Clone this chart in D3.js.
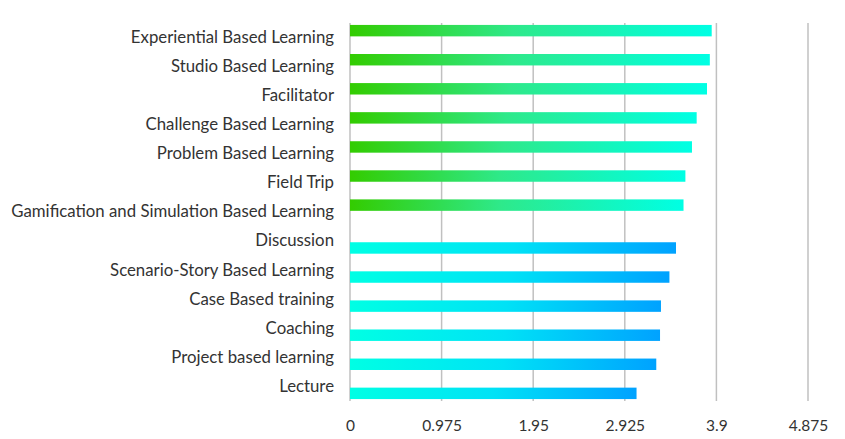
<!DOCTYPE html>
<html>
<head>
<meta charset="utf-8">
<script src="https://cdn.jsdelivr.net/npm/d3@7"></script>
<style>
  body { margin: 0; background: #fff; }
  svg { display: block; font-family: Lato, "Open Sans", sans-serif; }
</style>
</head>
<body>
<svg width="845" height="439"></svg>
<script>
// categories top to bottom
const categories = [
    "Experiential Based Learning",
    "Studio Based Learning",
    "Facilitator",
    "Challenge Based Learning",
    "Problem Based Learning",
    "Field Trip",
    "Gamification and Simulation Based Learning",
    "Discussion",
    "Scenario-Story Based Learning",
    "Case Based training",
    "Coaching",
    "Project based learning",
    "Lecture"
];
// two series, each category only has a value in one of them
const seriesNames = ["high", "other"];
const highValues  = [3.85, 3.83, 3.80, 3.69, 3.64, 3.57, 3.55, null, null, null, null, null, null];
const otherValues = [null, null, null, null, null, null, null, 3.47, 3.40, 3.31, 3.30, 3.26, 3.05];
const tickValues = [0, 0.975, 1.95, 2.925, 3.9, 4.875];

var svg = d3.select("svg"),
    margin = {top: 23, right: 37, bottom: 38, left: 350},
    width = +svg.attr("width") - margin.left - margin.right,
    height = +svg.attr("height") - margin.top - margin.bottom;

var defs = svg.append("defs");
function addGradient(id, stops) {
    var g = defs.append("linearGradient").attr("id", id)
        .attr("x1", "0%").attr("x2", "100%").attr("y1", "0%").attr("y2", "0%");
    stops.forEach(s => g.append("stop").attr("offset", s[0]).attr("stop-color", s[1]));
}
addGradient("grad-high", [[0, "#33cc00"], [0.45, "#2ee98a"], [1, "#00ffe4"]]);
addGradient("grad-other", [[0, "#00ffe4"], [0.5, "#00e2f6"], [1, "#00a2ff"]]);

var x = d3.scaleLinear().domain([0, 4.875]).range([0, width]);
var y = d3.scaleBand().domain(categories).range([0, height]).padding(0);
var ySub = d3.scaleBand().domain(seriesNames).range([0, y.bandwidth()])
    .paddingInner(0.17).paddingOuter(0.14);

var g = svg.append("g").attr("transform", `translate(${margin.left},${margin.top})`);

// vertical gridlines
g.append("g").selectAll("line")
    .data(tickValues)
    .enter().append("line")
    .attr("x1", d => x(d)).attr("x2", d => x(d))
    .attr("y1", 0).attr("y2", height)
    .attr("stroke", "#c0c0c0")
    .attr("stroke-width", 1.5);

// x tick labels
var xAxis = g.append("g")
    .attr("transform", `translate(0,${height})`)
    .call(d3.axisBottom(x).tickValues(tickValues).tickSize(0).tickPadding(19)
        .tickFormat(d => String(d)));
xAxis.select(".domain").remove();
xAxis.selectAll("text").attr("font-size", 15.5).attr("fill", "#333")
    .attr("font-family", "Lato, sans-serif");

// y category labels
var yAxis = g.append("g")
    .call(d3.axisLeft(y).tickSize(0).tickPadding(16));
yAxis.select(".domain").remove();
yAxis.selectAll("text").attr("font-size", 16.8).attr("fill", "#333")
    .attr("font-family", "Lato, sans-serif");

var rows = categories.map((c, i) => ({cat: c, high: highValues[i], other: otherValues[i]}));

seriesNames.forEach(function (s) {
    g.append("g")
        .selectAll("rect")
        .data(rows.filter(d => d[s] != null))
        .enter().append("rect")
        .attr("x", x(0))
        .attr("y", d => y(d.cat) + ySub(s))
        .attr("width", d => x(d[s]) - x(0))
        .attr("height", ySub.bandwidth())
        .attr("fill", `url(#grad-${s})`);
});
</script>
</body>
</html>
